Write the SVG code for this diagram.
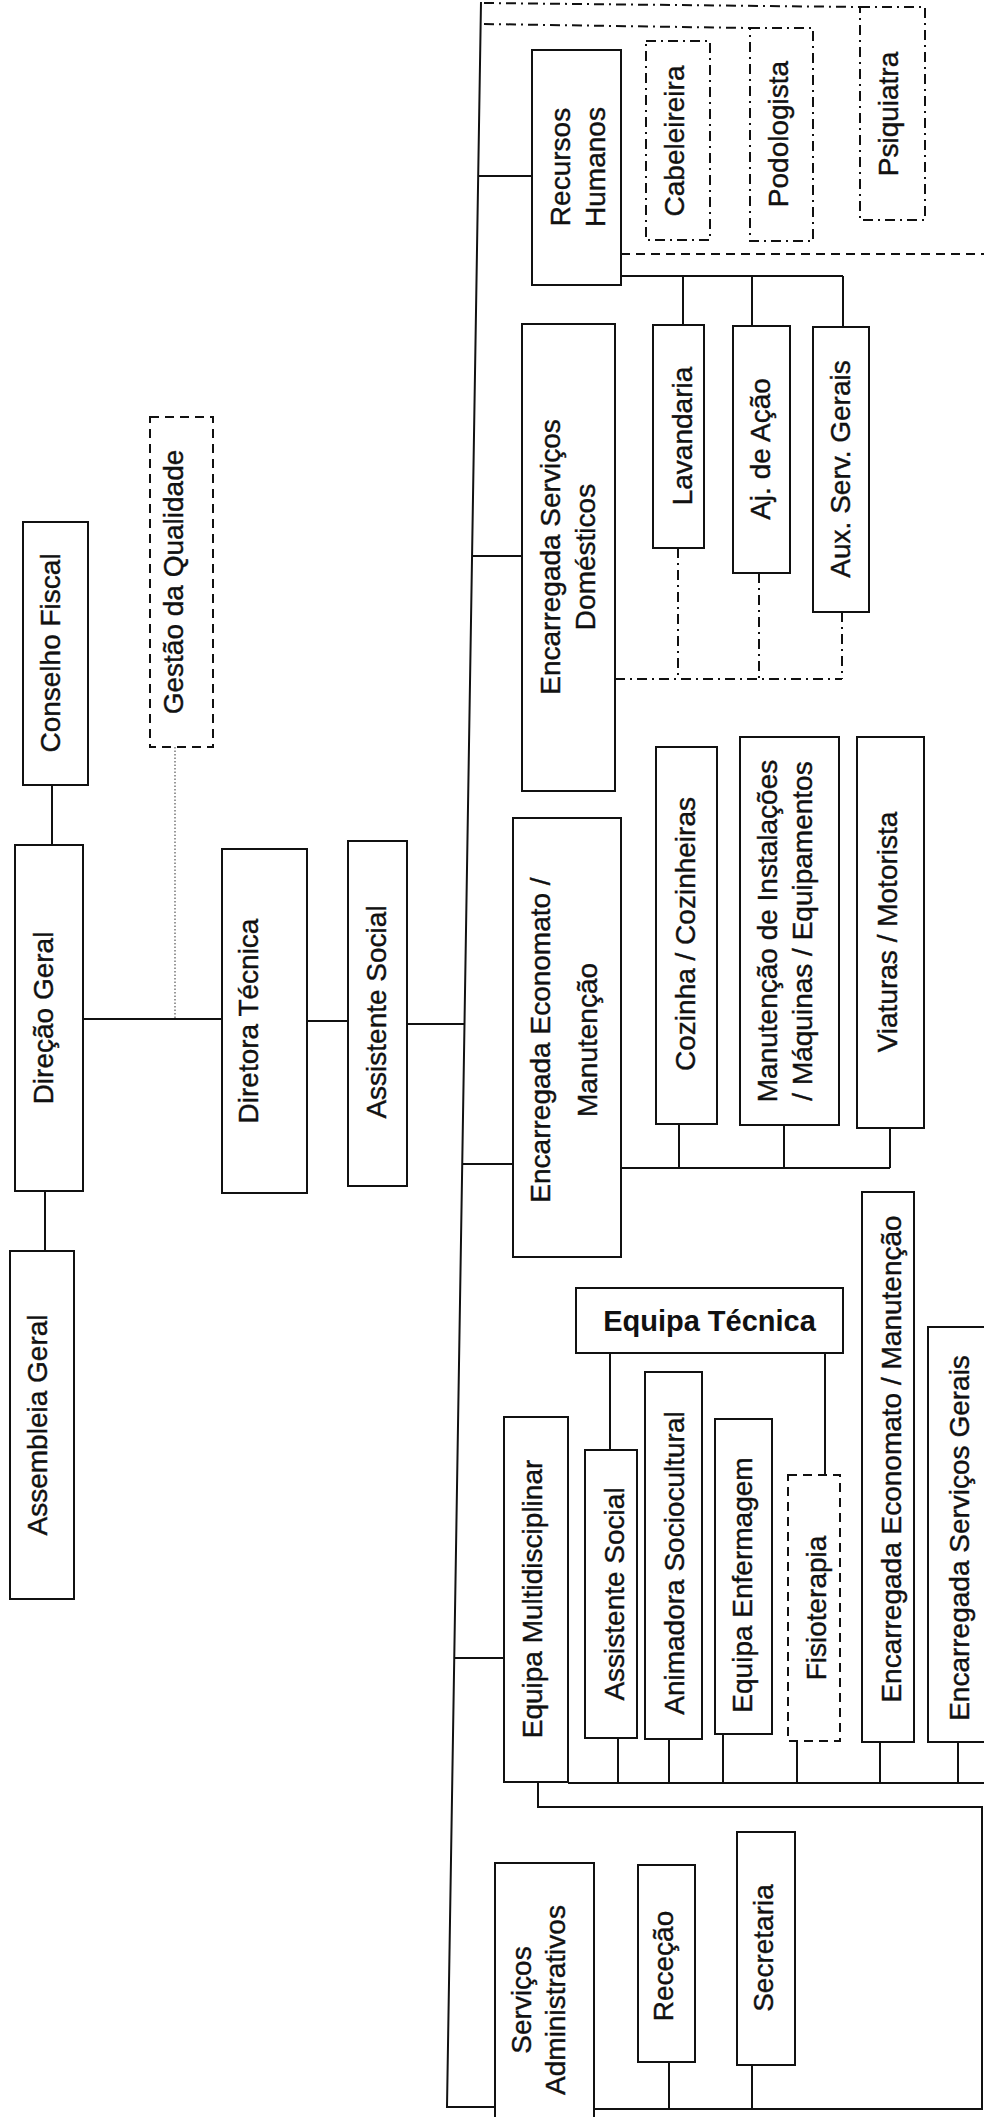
<svg xmlns="http://www.w3.org/2000/svg" width="984" height="2117" viewBox="0 0 984 2117">
<style>
.box{fill:#fff;stroke:#111;stroke-width:2}
.dash{fill:#fff;stroke:#111;stroke-width:2;stroke-dasharray:9 6}
.dd{fill:#fff;stroke:#111;stroke-width:2;stroke-dasharray:10 5 2 5}
.ln{fill:none;stroke:#111;stroke-width:2}
.lnd{fill:none;stroke:#111;stroke-width:2;stroke-dasharray:9 6}
.lndd{fill:none;stroke:#111;stroke-width:2;stroke-dasharray:10 5 2 5}
.dot{fill:none;stroke:#777;stroke-width:1.5;stroke-dasharray:1.5 2}
.t{font-family:"Liberation Sans",Arial,sans-serif;font-size:28px;fill:#111;stroke:#111;stroke-width:0.4;text-anchor:middle}
.tb{font-family:"Liberation Sans",Arial,sans-serif;font-size:29px;font-weight:bold;fill:#111;text-anchor:middle}
</style>
<rect width="984" height="2117" fill="#fff"/>
<g id="connectors">
<path class="ln" d="M52 785V845"/>
<path class="ln" d="M45 1191V1251"/>
<path class="ln" d="M83 1019H222"/>
<path class="dot" d="M175 747V1019"/>
<path class="ln" d="M307 1021H348"/>
<path class="ln" d="M407 1024H465"/>
<path class="ln" d="M481 2L447 2107H495"/>
<path class="ln" d="M478 176H532"/>
<path class="ln" d="M472 556H522"/>
<path class="ln" d="M462 1164H513"/>
<path class="ln" d="M454 1658H504"/>
<path class="ln" d="M621 276H843M683 276V325M752 276V326M843 276V327"/>
<path class="lnd" d="M621 254H984"/>
<path class="lndd" d="M615 679H842M678 548V679M759 573V679M842 612V679"/>
<path class="lndd" d="M484 3L860 7M484 24L750 28"/>
<path class="ln" d="M621 1168H890M679 1124V1168M784 1125V1168M890 1128V1168"/>
<path class="ln" d="M610 1353V1450M825 1353V1475"/>
<path class="ln" d="M568 1783H984M618 1738V1783M669 1739V1783M723 1734V1783M797 1741V1783M880 1742V1783M958 1742V1783"/>
<path class="ln" d="M538 1782V1807H982V2109H594"/>
<path class="ln" d="M669 2062V2109M752 2065V2109"/>
</g>
<g id="conselho-fiscal"><rect class="box" x="23" y="522" width="65" height="263"/><text class="t" transform="translate(60 653) rotate(-90)">Conselho Fiscal</text></g>
<g id="gestao-qualidade"><rect class="dash" x="150" y="417" width="63" height="330"/><text class="t" transform="translate(183 582) rotate(-90)">Gestão da Qualidade</text></g>
<g id="direcao-geral"><rect class="box" x="15" y="845" width="68" height="346"/><text class="t" transform="translate(53 1018) rotate(-90)">Direção Geral</text></g>
<g id="assembleia-geral"><rect class="box" x="10" y="1251" width="64" height="348"/><text class="t" transform="translate(47 1425) rotate(-90)">Assembleia Geral</text></g>
<g id="diretora-tecnica"><rect class="box" x="222" y="849" width="85" height="344"/><text class="t" transform="translate(258 1021) rotate(-90)">Diretora Técnica</text></g>
<g id="assistente-social"><rect class="box" x="348" y="841" width="59" height="345"/><text class="t" transform="translate(386 1012) rotate(-90)">Assistente Social</text></g>
<g id="recursos-humanos"><rect class="box" x="532" y="50" width="89" height="235"/><text class="t" transform="translate(570 167) rotate(-90)"><tspan x="0" y="0">Recursos</tspan><tspan x="0" y="35">Humanos</tspan></text></g>
<g id="cabeleireira"><rect class="dd" x="646" y="41" width="64" height="199"/><text class="t" transform="translate(684 141) rotate(-90)">Cabeleireira</text></g>
<g id="podologista"><rect class="dd" x="750" y="28" width="63" height="213"/><text class="t" transform="translate(788 134) rotate(-90)">Podologista</text></g>
<g id="psiquiatra"><rect class="dd" x="860" y="7" width="65" height="213"/><text class="t" transform="translate(898 114) rotate(-90)">Psiquiatra</text></g>
<g id="enc-servicos-domesticos"><rect class="box" x="522" y="324" width="93" height="467"/><text class="t" transform="translate(560 557) rotate(-90)"><tspan x="0" y="0">Encarregada Serviços</tspan><tspan x="0" y="35">Domésticos</tspan></text></g>
<g id="lavandaria"><rect class="box" x="653" y="325" width="51" height="223"/><text class="t" transform="translate(692 436) rotate(-90)">Lavandaria</text></g>
<g id="aj-acao"><rect class="box" x="733" y="326" width="57" height="247"/><text class="t" transform="translate(770 449) rotate(-90)">Aj. de Ação</text></g>
<g id="aux-serv-gerais"><rect class="box" x="813" y="327" width="56" height="285"/><text class="t" transform="translate(850 469) rotate(-90)">Aux. Serv. Gerais</text></g>
<g id="enc-economato"><rect class="box" x="513" y="818" width="108" height="439"/><text class="t" transform="translate(550 1040) rotate(-90)"><tspan x="0" y="0">Encarregada Economato /</tspan><tspan x="0" y="47">Manutenção</tspan></text></g>
<g id="cozinha"><rect class="box" x="656" y="747" width="61" height="377"/><text class="t" transform="translate(695 934) rotate(-90)">Cozinha / Cozinheiras</text></g>
<g id="manutencao"><rect class="box" x="740" y="737" width="99" height="388"/><text class="t" transform="translate(777 931) rotate(-90)"><tspan x="0" y="0">Manutenção de Instalações</tspan><tspan x="0" y="35">/ Máquinas / Equipamentos</tspan></text></g>
<g id="viaturas"><rect class="box" x="857" y="737" width="67" height="391"/><text class="t" transform="translate(897 932) rotate(-90)">Viaturas / Motorista</text></g>
<g id="equipa-tecnica"><rect class="box" x="576" y="1288" width="267" height="65"/><text class="tb" x="709.5" y="1331">Equipa Técnica</text></g>
<g id="equipa-multidisciplinar"><rect class="box" x="504" y="1417" width="64" height="365"/><text class="t" transform="translate(542 1599) rotate(-90)">Equipa Multidisciplinar</text></g>
<g id="assistente-social-2"><rect class="box" x="585" y="1450" width="52" height="288"/><text class="t" transform="translate(624 1594) rotate(-90)">Assistente Social</text></g>
<g id="animadora"><rect class="box" x="645" y="1372" width="57" height="367"/><text class="t" transform="translate(684 1563) rotate(-90)">Animadora Sociocultural</text></g>
<g id="equipa-enfermagem"><rect class="box" x="715" y="1419" width="57" height="315"/><text class="t" transform="translate(752 1585) rotate(-90)">Equipa Enfermagem</text></g>
<g id="fisioterapia"><rect class="dash" x="788" y="1475" width="52" height="266"/><text class="t" transform="translate(826 1608) rotate(-90)">Fisioterapia</text></g>
<g id="enc-economato-2"><rect class="box" x="862" y="1192" width="52" height="550"/><text class="t" transform="translate(901 1459) rotate(-90)">Encarregada Economato / Manutenção</text></g>
<g id="enc-servicos-gerais"><rect class="box" x="928" y="1327" width="80" height="415"/><text class="t" transform="translate(969 1538) rotate(-90)">Encarregada Serviços Gerais</text></g>
<g id="servicos-administrativos"><rect class="box" x="495" y="1863" width="99" height="270"/><text class="t" transform="translate(531 2000) rotate(-90)"><tspan x="0" y="0">Serviços</tspan><tspan x="0" y="34">Administrativos</tspan></text></g>
<g id="rececao"><rect class="box" x="638" y="1865" width="57" height="197"/><text class="t" transform="translate(673 1966) rotate(-90)">Receção</text></g>
<g id="secretaria"><rect class="box" x="737" y="1832" width="58" height="233"/><text class="t" transform="translate(773 1948) rotate(-90)">Secretaria</text></g>
</svg>
